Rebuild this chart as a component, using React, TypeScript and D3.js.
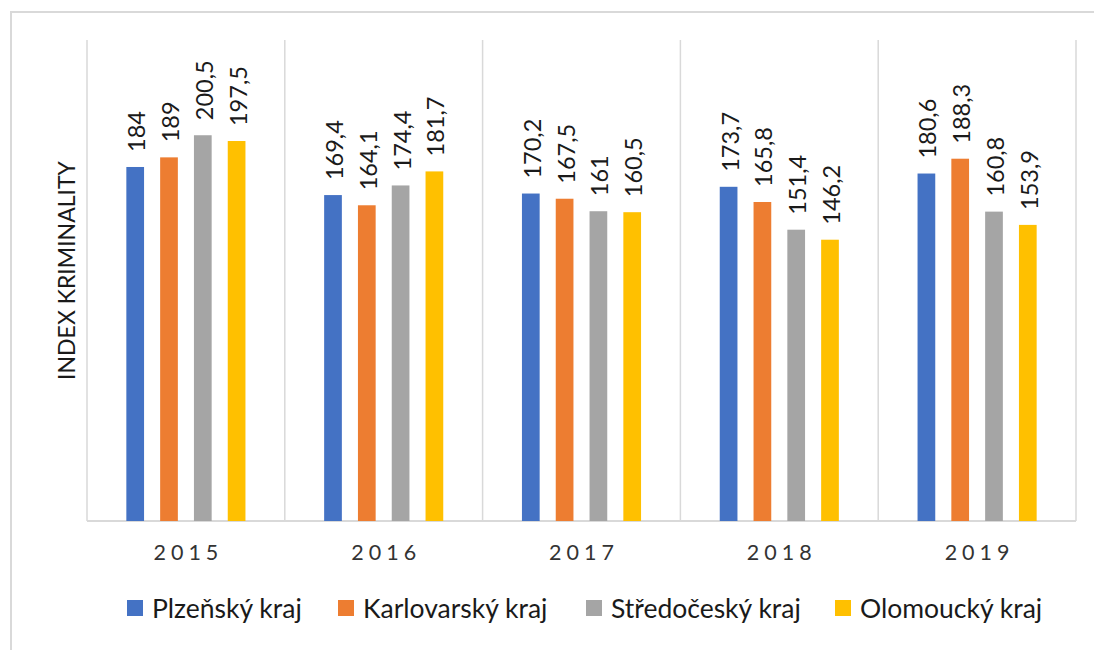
import React from 'react';
import * as d3 from 'd3';

const width = 1094;
const height = 650;
const margin = { top: 40, right: 18, bottom: 129, left: 87 };

const years = ['2015', '2016', '2017', '2018', '2019'];
const regions = ['Plzeňský kraj', 'Karlovarský kraj', 'Středočeský kraj', 'Olomoucký kraj'];
const colors = ['#4472C4', '#ED7D31', '#A5A5A5', '#FFC000'];

const plzen = [184, 169.4, 170.2, 173.7, 180.6];
const karlovy = [189, 164.1, 167.5, 165.8, 188.3];
const stredo = [200.5, 174.4, 161, 151.4, 160.8];
const olomouc = [197.5, 181.7, 160.5, 146.2, 153.9];
const series = [plzen, karlovy, stredo, olomouc];

// legend item left edges (square) as laid out in the picture
const legendX = [127, 338, 586, 835];

const font = 'Lato, Carlito, Calibri, sans-serif';
const grid = '#d9d9d9';
const ink = '#1a1a1a';

const fmt = (v: number) => String(v).replace('.', ',');

export default function App() {
  const x0 = d3
    .scaleBand<string>()
    .domain(years)
    .range([margin.left, width - margin.right])
    .paddingInner(0)
    .paddingOuter(0);
  const x1 = d3
    .scaleBand<number>()
    .domain(d3.range(regions.length))
    .range([0, x0.bandwidth()])
    .paddingInner(0.476)
    .paddingOuter(1.164);
  const y = d3.scaleLinear().domain([0, 250]).range([height - margin.bottom, margin.top]);
  const base = y(0);

  const bounds = years.map((yr) => x0(yr) as number).concat([width - margin.right]);

  return (
    <svg
      width={width}
      height={height}
      style={{ position: 'absolute', left: 0, top: 0, background: '#fff' }}
      fontFamily={font}
    >
      <rect x={11} y={12} width={width + 10} height={height + 10} fill="#fff" stroke={grid} strokeWidth={2} />

      {bounds.map((bx, i) => (
        <line key={'g' + i} x1={bx} x2={bx} y1={margin.top} y2={base} stroke={grid} strokeWidth={1.5} />
      ))}
      <line x1={margin.left} x2={width - margin.right} y1={base} y2={base} stroke={grid} strokeWidth={2} />

      {years.map((yr, i) => (
        <g key={yr} transform={`translate(${x0(yr)},0)`}>
          {series.map((s, j) => {
            const bx = x1(j) as number;
            const cx = bx + x1.bandwidth() / 2;
            const top = y(s[i]);
            return (
              <g key={j}>
                <rect x={bx} y={top} width={x1.bandwidth()} height={base - top} fill={colors[j]} />
                <text
                  transform={`translate(${cx + 1},${top - 15}) rotate(-90)`}
                  dominantBaseline="central"
                  fontSize={23.5}
                  fill={ink}
                >
                  {fmt(s[i])}
                </text>
              </g>
            );
          })}
          <text
            x={x0.bandwidth() / 2 + 2.5}
            y={552}
            textAnchor="middle"
            dominantBaseline="central"
            fontSize={21.5}
            letterSpacing={5}
            fill="#333"
          >
            {yr}
          </text>
        </g>
      ))}

      <text
        transform={`translate(66,${(margin.top + base) / 2 - 10}) rotate(-90)`}
        textAnchor="middle"
        dominantBaseline="central"
        fontSize={23}
        fill={ink}
      >
        INDEX KRIMINALITY
      </text>

      {regions.map((r, j) => (
        <g key={r} transform={`translate(${legendX[j]},600)`}>
          <rect width={16} height={16} fill={colors[j]} />
          <text x={25} y={8} dominantBaseline="central" fontSize={26.5} fill={ink}>
            {r}
          </text>
        </g>
      ))}
    </svg>
  );
}
